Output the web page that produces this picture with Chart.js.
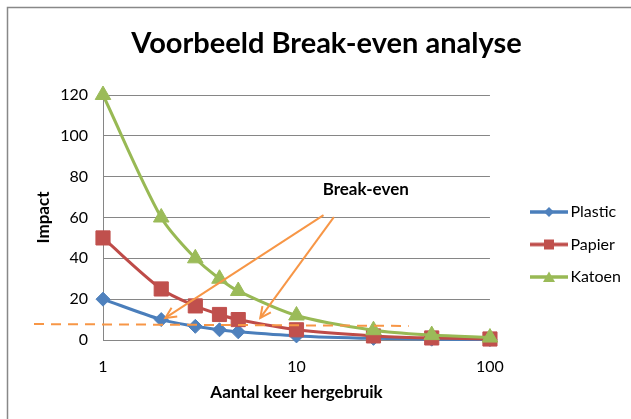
<!DOCTYPE html>
<html><head><meta charset="utf-8">
<script src="https://cdn.jsdelivr.net/npm/chart.js@4"></script>
<style>html,body{margin:0;padding:0;background:#fff}canvas{display:block}</style>
</head><body>
<canvas id="c" width="631" height="419"></canvas>
<script>
// ---- data ----
const reuses = [1, 2, 3, 4, 5, 10, 25, 50, 100];
const plastic = [20, 10, 6.7, 5, 4, 2, 0.8, 0.4, 0.2];
const papier = [50, 25, 16.7, 12.5, 10, 5, 2, 1, 0.5];
const katoen = [120, 60, 40, 30, 24, 12, 4.8, 2.4, 1.2];
const seriesNames = ['Plastic', 'Papier', 'Katoen'];
const xTicks = [1, 10, 100];
const yTicks = [0, 20, 40, 60, 80, 100, 120];
const chartTitle = 'Voorbeeld Break-even analyse';
const xTitle = 'Aantal keer hergebruik';
const yTitle = 'Impact';
// annotation (in data units: [reuses, impact])
const breakEvenLine = [[0.44, 7.8], [38, 6.9]];
const breakEvenArrows = [[[13.8, 61.2], [2.1, 10.8]], [[15.6, 60.2], [6.5, 10.8]]];
const breakEvenLabel = ['Break-even', 22.8, 73.5];

// ---- styles ----
const FONT = 'Lato';
const colors = [
  {line: '#4A7EBB', marker: '#4F81BD'},
  {line: '#BE4B48', marker: '#C0504D'},
  {line: '#98B954', marker: '#9BBB59'}
];
const shapes = ['rectRot', 'rect', 'triangle'];
const radii = [7, 10, 9];
const ORANGE = '#F79646';
const GRID = '#868686';

function toPoints(vals) { return reuses.map((x, i) => ({x: x, y: vals[i]})); }

function drawMarker(ctx, shape, cx, cy, s, color) {
  ctx.fillStyle = color;
  ctx.beginPath();
  if (shape === 'rectRot') {
    ctx.moveTo(cx, cy - s); ctx.lineTo(cx + s, cy); ctx.lineTo(cx, cy + s); ctx.lineTo(cx - s, cy);
  } else if (shape === 'rect') {
    ctx.rect(cx - s, cy - s, 2 * s, 2 * s);
  } else {
    ctx.moveTo(cx, cy - s * 1.1); ctx.lineTo(cx + s * 1.2, cy + s); ctx.lineTo(cx - s * 1.2, cy + s);
  }
  ctx.closePath();
  ctx.fill();
}

const legendIcons = colors.map((c, i) => {
  const cv = document.createElement('canvas');
  cv.width = 67; cv.height = 20;
  const g = cv.getContext('2d');
  g.strokeStyle = c.line; g.lineWidth = 3.5;
  g.beginPath(); g.moveTo(29, 10); g.lineTo(67, 10); g.stroke();
  drawMarker(g, shapes[i], 48, 10, 5, c.marker);
  return cv;
});

const decor = {
  id: 'decor',
  beforeDraw(chart) {
    const ctx = chart.ctx;
    ctx.save();
    ctx.fillStyle = '#fff';
    ctx.fillRect(0, 0, chart.width, chart.height);
    ctx.strokeStyle = '#888';
    ctx.lineWidth = 1.5;
    ctx.strokeRect(7.5, 7.5, chart.width + 20, chart.height + 20);
    ctx.restore();
  },
  afterDatasetsDraw(chart) {
    const ctx = chart.ctx, xs = chart.scales.x, ys = chart.scales.y;
    const px = p => [xs.getPixelForValue(p[0]), ys.getPixelForValue(p[1])];
    ctx.save();
    ctx.strokeStyle = ORANGE;
    ctx.lineWidth = 2;
    // dashed break-even level
    ctx.setLineDash([10, 7]);
    ctx.beginPath();
    const a = px(breakEvenLine[0]), b = px(breakEvenLine[1]);
    ctx.moveTo(a[0], a[1]); ctx.lineTo(b[0], b[1]); ctx.stroke();
    ctx.setLineDash([]);
    // arrows
    breakEvenArrows.forEach(ar => {
      const s = px(ar[0]), t = px(ar[1]);
      ctx.beginPath(); ctx.moveTo(s[0], s[1]); ctx.lineTo(t[0], t[1]); ctx.stroke();
      const ang = Math.atan2(t[1] - s[1], t[0] - s[0]);
      const L = 12, sp = 0.45;
      ctx.beginPath();
      ctx.moveTo(t[0] - L * Math.cos(ang - sp), t[1] - L * Math.sin(ang - sp));
      ctx.lineTo(t[0], t[1]);
      ctx.lineTo(t[0] - L * Math.cos(ang + sp), t[1] - L * Math.sin(ang + sp));
      ctx.stroke();
    });
    // label
    const lp = px([breakEvenLabel[1], breakEvenLabel[2]]);
    ctx.fillStyle = '#000';
    ctx.font = 'bold 17px ' + FONT;
    ctx.textAlign = 'center';
    ctx.textBaseline = 'middle';
    ctx.fillText(breakEvenLabel[0], lp[0], lp[1]);
    ctx.restore();
  }
};

const datasets = [plastic, papier, katoen].map((vals, i) => ({
  label: seriesNames[i],
  data: toPoints(vals),
  borderColor: colors[i].line,
  backgroundColor: colors[i].marker,
  pointBackgroundColor: colors[i].marker,
  pointBorderColor: colors[i].marker,
  pointBorderWidth: 1,
  pointStyle: shapes[i],
  pointRadius: radii[i],
  borderWidth: 3,
  tension: 0.3,
  fill: false,
  clip: false,
  order: 3 - i
}));

Chart.defaults.color = '#000';
Chart.defaults.font.family = FONT;

new Chart(document.getElementById('c'), {
  type: 'line',
  data: { datasets: datasets },
  plugins: [decor],
  options: {
    responsive: false,
    animation: false,
    layout: { padding: { left: 22, right: 0, top: 0, bottom: 0 } },
    plugins: {
      tooltip: { enabled: false },
      title: {
        display: true, text: chartTitle, color: '#000',
        font: { family: FONT, size: 29, weight: 'bold' },
        padding: { top: 26.6, bottom: 33.6 }
      },
      legend: {
        position: 'right', align: 'center',
        title: { display: true, text: '', font: { size: 12 }, padding: { top: 0, bottom: 55.6 } },
        labels: {
          usePointStyle: true, pointStyleWidth: 56, padding: 16.5,
          color: '#000', font: { family: FONT, size: 16 },
          generateLabels: chart => chart.data.datasets.map((ds, i) => ({
            text: ds.label, datasetIndex: i, pointStyle: legendIcons[i],
            fillStyle: ds.backgroundColor, strokeStyle: ds.borderColor,
            lineWidth: 0, hidden: false, fontColor: '#000'
          })),
          sort: (a, b) => a.datasetIndex - b.datasetIndex
        }
      }
    },
    scales: {
      x: {
        type: 'logarithmic', min: 1, max: 100,
        afterBuildTicks: s => { s.ticks = xTicks.map(v => ({ value: v })); },
        afterFit: s => { s.height = 79; },
        ticks: { callback: v => String(v), padding: 17, autoSkip: false, maxRotation: 0, color: '#000', font: { family: FONT, size: 16 } },
        grid: { display: false, drawTicks: false },
        border: { display: false },
        title: { display: true, text: xTitle, color: '#000', font: { family: FONT, size: 17, weight: 'bold' }, padding: { top: 0, bottom: 15.8 } }
      },
      y: {
        min: 0, max: 120,
        afterBuildTicks: s => { s.ticks = yTicks.map(v => ({ value: v })); },
        afterFit: s => { s.width = 81; },
        ticks: { padding: 15, color: '#000', font: { family: FONT, size: 16 } },
        grid: { color: GRID, drawTicks: false, lineWidth: 1 },
        border: { display: true, color: GRID, width: 1 },
        title: { display: true, text: yTitle, color: '#000', font: { family: FONT, size: 17, weight: 'bold' }, padding: { top: 11.8, bottom: 0 } }
      }
    }
  }
});
</script>
</body></html>
